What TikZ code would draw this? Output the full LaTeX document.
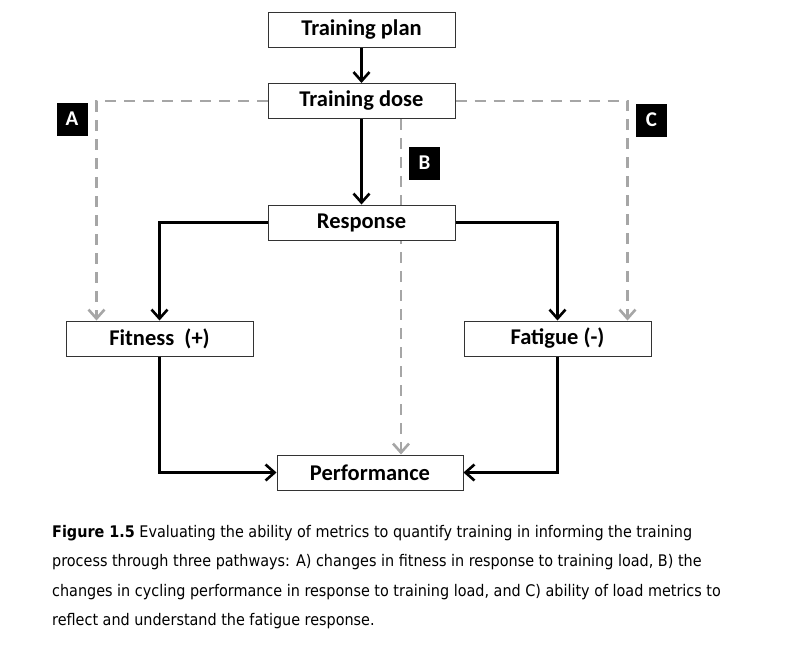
\documentclass[tikz,border=0pt]{standalone}
\usepackage{fontspec}
\setmainfont{Carlito}
\newfontfamily\capfont{DejaVu Sans Condensed}
\usetikzlibrary{arrows.meta,backgrounds}

\begin{document}
\begin{tikzpicture}[x=1pt,y=-1pt,
		stagebox/.style={draw=black!80,fill=white,line width=1pt,minimum width=187pt,minimum height=35pt,inner sep=0pt,font=\fontsize{22.5}{24}\selectfont\bfseries},
		pathtag/.style={fill=black,text=white,minimum width=31pt,minimum height=33pt,inner sep=0pt,font=\fontsize{21}{22}\selectfont\bfseries},
		blk/.style={line width=2.6pt,-{Straight Barb[length=9pt,width=16pt,line width=2.6pt]}},
		gry/.style={line width=2.6pt,black!35,dash pattern=on 11pt off 8pt,-{Straight Barb[length=9pt,width=16pt,line width=2.6pt]}}]
		\useasboundingbox (0,0) rectangle (795,649);
		\node [stagebox] (plan) at (361.5, 29.5) {Training plan};
		\node [stagebox] (dose) at (361.5, 101) {Training dose};
		\node [stagebox] (resp) at (361.5, 222.5) {Response};
		\node [stagebox] (fit) at (159.5, 338.5) {Fitness\ \ (+)};
		\node [stagebox] (fat) at (557.5, 338.5) {Fatigue (-)};
		\node [stagebox,minimum width=186pt] (perf) at (370, 472.5) {Performance};
		\coordinate (bx) at (401, 0);
		
		\draw [blk] (plan) to (dose);
		\draw [blk] (dose) to (resp);
		\draw [blk] (resp.west) -| (fit.north);
		\draw [blk] (resp.east) -| (fat.north);
		\draw [blk] (fit.south) |- (perf.west);
		\draw [blk] (fat.south) |- (perf.east);
		
		% pathways A, B, C
		\begin{scope}[on background layer]
		\draw [gry] (dose.west) -| ([xshift=31pt]fit.north west);
		\draw [gry] (dose.east) -| ([xshift=-24pt]fat.north east);
		\draw [gry] (dose.south -| bx) -- (perf.north -| bx);
		\end{scope}
		\node [pathtag] (tagA) at (72, 119) {A};
		\node [pathtag] (tagB) at (424.5, 163) {B};
		\node [pathtag] (tagC) at (651.5, 120) {C};
		
		\node [anchor=north west,inner sep=0pt,align=left,font=\capfont\fontsize{16}{29.5}\selectfont] (cap) at (52, 525)
		{\textbf{Figure 1.5} Evaluating the ability of metrics to quantify training in informing the training\\
		process through three pathways: A) changes in fitness in response to training load, B) the\\
		changes in cycling performance in response to training load, and C) ability of load metrics to\\
		reflect and understand the fatigue response.};
\end{tikzpicture}
\end{document}
